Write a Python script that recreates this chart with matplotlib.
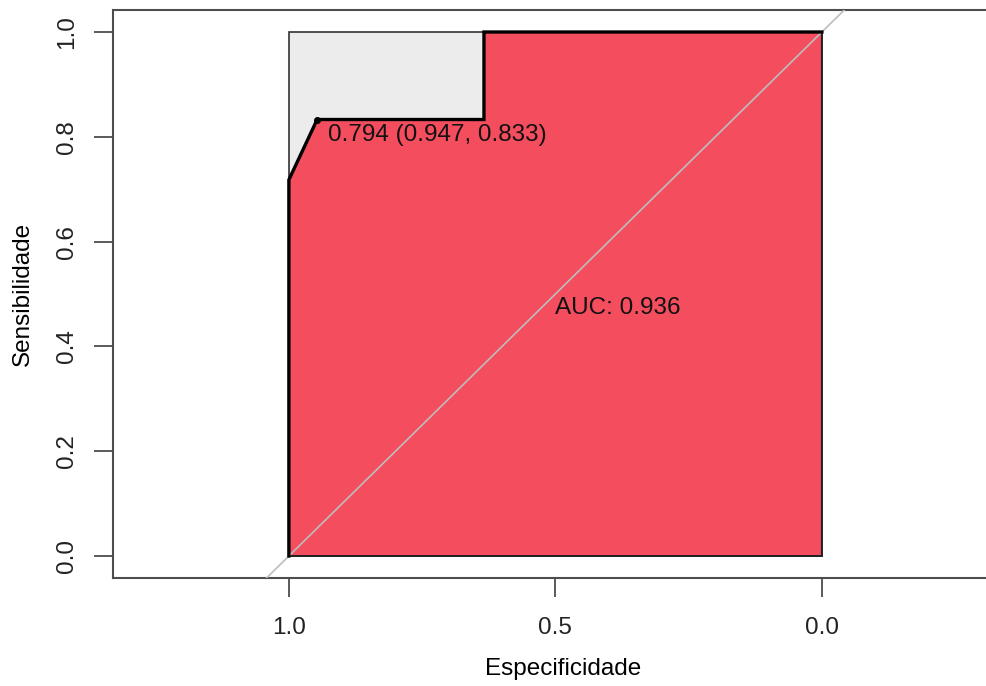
"""ROC curve (pROC style) — especificidade vs sensibilidade."""

import matplotlib
matplotlib.use("Agg")
import matplotlib.pyplot as plt
from matplotlib.patches import Polygon

# ── Data ──
spec = [1.0, 1.0, 0.947, 0.634, 0.634, 0.0]
sens = [0.0, 0.718, 0.833, 0.833, 1.0, 1.0]
best_spec, best_sens, best_thr = 0.947, 0.833, 0.794
auc = 0.936
x_ticks = [1.0, 0.5, 0.0]
y_ticks = [0.0, 0.2, 0.4, 0.6, 0.8, 1.0]

plt.rcParams.update({
    "font.family": ["Liberation Sans", "DejaVu Sans"],
    "font.size": 17.5,
})

RED = "#F44D5E"
GREY_FILL = "#ECECEC"
AXIS_COL = "#4D4D4D"

fig = plt.figure(figsize=(9.87, 6.86), dpi=100)
ax = fig.add_axes([113 / 987, 1 - 578 / 686, 900 / 987, 568 / 686])

ax.set_xlim(1.330, 1.330 - 900 / 533)
ax.set_ylim(-0.042, 1.042)

# max AUC polygon (grey)
ax.add_patch(Polygon([(1, 0), (1, 1), (0, 1), (0, 0)], closed=True,
                     facecolor=GREY_FILL, edgecolor="#333333", lw=1.2, zorder=1))
# AUC polygon (red)
poly = list(zip(spec, sens)) + [(0.0, 0.0)]
ax.add_patch(Polygon(poly, closed=True, facecolor=RED,
                     edgecolor="#222222", lw=1.4, zorder=2))

# identity line
ax.plot([1.2, -0.2], [-0.2, 1.2], color="#BDBDBD", lw=1.2, zorder=3)

# ROC curve
ax.plot(spec, sens, color="black", lw=2.4, zorder=4, solid_joinstyle="miter")
ax.plot([best_spec], [best_sens], "o", color="black", ms=4, zorder=5)
ax.text(best_spec - 0.02, best_sens - 0.03,
        f"{best_thr:.3f} ({best_spec:.3f}, {best_sens:.3f})",
        ha="left", va="center", color="#111111", zorder=6)
ax.text(0.5, 0.474, f"AUC: {auc:.3f}", ha="left", va="center",
        color="#111111", zorder=6)

ax.set_xticks(x_ticks)
ax.set_xticklabels([f"{v:.1f}" for v in x_ticks])
ax.set_yticks(y_ticks)
ax.set_yticklabels([f"{v:.1f}" for v in y_ticks], rotation=90, va="center")
ax.tick_params(length=14, width=1.3, color=AXIS_COL, labelcolor="#222222")
ax.tick_params(axis="x", pad=14)
ax.tick_params(axis="y", pad=11)
for s in ax.spines.values():
    s.set_color(AXIS_COL)
    s.set_linewidth(1.5)

ax.set_xlabel("Especificidade", labelpad=14)
ax.set_ylabel("Sensibilidade", labelpad=16)

fig.savefig("out.png", dpi=100)
